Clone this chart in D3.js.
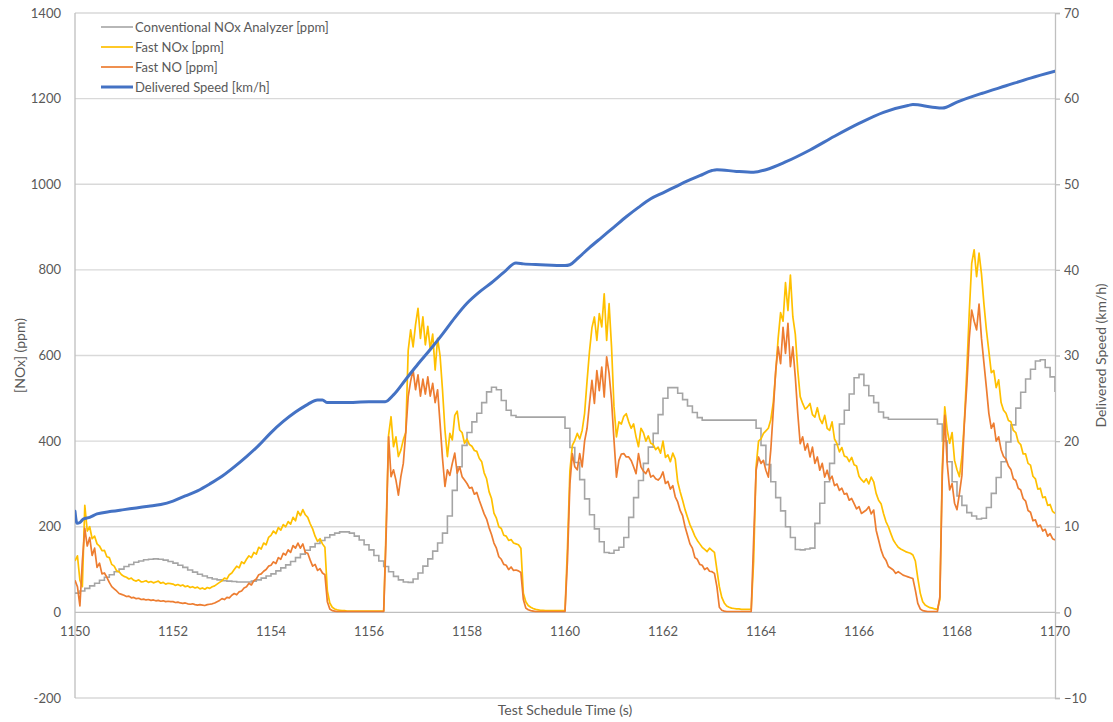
<!DOCTYPE html>
<html>
<head>
<meta charset="utf-8">
<script src="https://cdn.jsdelivr.net/npm/d3@7"></script>
<style>
  body { margin: 0; background: #fff; }
  text { font-family: Lato, "Open Sans", sans-serif; fill: #595959; }
</style>
</head>
<body>
<svg id="chart" width="1113" height="722"></svg>
<script>
// sampling of the recorded series (seconds)
var timeStart = 1150;
var grayStep = 0.1;
var fastStep = 0.05;

var xTicks = [1150, 1152, 1154, 1156, 1158, 1160, 1162, 1164, 1166, 1168, 1170];
var noxTicks = [-200, 0, 200, 400, 600, 800, 1000, 1200, 1400];
var speedTicks = [-10, 0, 10, 20, 30, 40, 50, 60, 70];

// Conventional NOx Analyzer [ppm], every 0.1 s
var conventionalNox = [
  45,50,56,62,68,75,82,88,95,101,
  107,112,117,120,123,124,125,124,122,119,
  115,110,105,99,94,89,85,81,78,76,
  74,73,72,71,71,71,73,76,80,85,
  90,97,104,111,119,128,136,145,153,161,
  168,175,181,185,188,188,185,178,169,158,
  146,133,120,107,95,84,76,71,70,78,
  92,108,125,143,162,185,225,285,340,390,
  420,445,465,490,515,526,520,495,472,460,
  456,456,456,456,456,456,456,456,456,456,
  430,385,350,310,265,228,195,165,140,138,
  145,152,175,222,268,308,348,386,418,462,
  500,525,525,512,497,482,467,455,449,449,
  449,449,449,449,449,449,449,449,449,430,
  390,345,305,268,237,200,175,147,146,148,
  150,208,255,305,348,392,440,472,510,548,
  556,530,506,490,468,455,451,451,451,451,
  451,451,451,451,451,451,440,400,352,305,
  272,250,233,225,218,220,245,278,315,352,
  398,438,477,514,545,568,587,590,572,550,
  515
];

// Fast NOx [ppm], every 0.05 s
var fastNox = [
  120,132,75,60,250,190,200,172,178,160,155,144,145,130,128,112,108,97,95,88,
  84,82,78,80,75,73,76,71,72,74,70,72,69,71,73,68,70,66,68,67,
  66,63,65,62,64,60,62,58,60,57,59,55,57,54,58,56,60,62,66,70,
  74,80,78,88,92,100,108,104,118,114,124,132,128,140,136,152,148,162,158,175,
  180,190,184,198,192,205,200,212,206,222,214,236,226,240,228,222,207,195,178,166,
  172,160,152,50,22,12,8,6,5,4,4,3,3,3,3,3,3,3,3,3,
  3,3,3,3,3,3,3,200,414,457,387,410,364,379,403,420,612,660,620,672,
  710,640,690,625,668,615,650,566,640,600,520,426,364,418,403,460,470,426,420,395,
  405,392,388,378,376,360,352,326,312,282,266,232,220,200,196,180,178,168,170,162,
  160,158,150,45,25,16,12,9,7,6,5,5,4,4,4,4,4,4,4,4,
  4,150,330,390,402,418,405,425,465,540,610,665,690,635,698,667,744,635,721,620,
  480,410,445,440,458,464,445,430,440,410,387,430,420,400,412,395,392,380,386,372,
  400,362,368,352,372,358,305,282,262,240,222,205,192,178,168,160,152,147,142,150,
  145,140,100,60,35,22,15,12,10,9,8,8,7,7,7,7,7,120,340,400,
  405,418,424,430,450,490,560,640,700,680,770,705,788,690,650,566,504,488,475,480,
  488,462,456,478,452,441,460,430,425,445,405,394,375,385,365,363,352,362,345,342,
  318,310,304,312,300,316,305,278,262,254,231,212,200,184,169,160,152,148,145,142,
  140,138,134,120,80,45,25,17,14,11,10,8,7,30,340,480,426,395,420,355,
  333,317,363,445,566,700,815,847,784,839,790,720,660,610,560,565,525,543,490,472,
  465,448,445,425,420,398,392,370,370,348,344,318,312,288,290,268,270,250,252,236,
  231
];

// Fast NO [ppm], every 0.05 s
var fastNo = [
  75,60,15,120,196,155,175,133,150,105,115,90,92,82,70,60,55,50,44,42,
  40,37,38,34,35,32,33,30,31,29,30,28,29,27,28,26,27,25,26,25,
  25,23,24,22,21,22,20,19,20,18,17,18,17,16,18,19,20,22,25,28,
  32,30,35,34,40,44,41,48,50,57,60,68,64,74,78,88,90,96,100,108,
  110,118,114,128,124,138,134,146,140,156,150,162,150,160,140,138,122,108,112,98,
  102,92,88,25,8,4,3,2,2,2,2,2,2,2,2,2,2,2,2,2,
  2,2,2,2,2,2,2,180,410,317,333,309,274,317,348,420,504,540,566,520,
  555,505,545,510,550,505,535,490,520,442,360,294,333,320,348,372,325,340,317,309,
  301,290,292,276,280,262,246,230,218,198,182,162,150,130,124,112,110,100,106,98,
  99,97,93,30,10,6,4,3,2,2,2,2,2,2,2,2,2,2,2,2,
  2,120,300,371,340,333,371,340,400,430,488,542,488,565,518,573,503,597,558,495,
  402,316,355,370,371,363,363,355,340,324,371,340,330,324,336,316,320,312,309,315,
  328,301,306,288,296,270,258,238,226,200,180,160,150,128,124,112,110,100,104,96,
  95,91,60,12,5,3,2,2,2,2,2,2,2,2,2,2,2,170,332,363,
  348,355,332,316,380,470,565,620,581,666,605,675,574,620,550,465,394,410,379,394,
  363,386,348,363,332,348,316,332,310,318,296,300,285,290,276,278,262,266,254,242,
  247,231,235,239,247,230,239,192,169,146,130,122,107,103,99,91,95,91,87,85,
  83,81,79,52,21,8,4,3,2,2,2,2,2,36,320,460,348,286,301,255,
  240,278,320,441,530,640,706,680,660,720,640,582,525,465,430,442,400,410,380,364,
  358,342,334,312,308,290,286,266,260,238,234,214,216,200,204,190,194,178,184,172,
  169
];

// Delivered Speed [km/h]
var speedTime = [
  1150.00,1150.04,1150.10,1150.17,1150.30,1150.45,1150.75,1151.00,1151.25,1151.50,
  1151.75,1152.00,1152.25,1152.50,1152.75,1153.00,1153.25,1153.50,1153.75,1154.00,
  1154.25,1154.50,1154.75,1154.95,1155.05,1155.15,1155.50,1156.00,1156.33,1156.50,
  1156.75,1157.00,1157.25,1157.50,1157.75,1158.00,1158.25,1158.50,1158.75,1159.00,
  1159.15,1159.50,1160.00,1160.10,1160.25,1160.50,1160.75,1161.00,1161.25,1161.50,
  1161.75,1162.00,1162.25,1162.50,1162.75,1163.00,1163.10,1163.50,1163.85,1164.10,
  1164.50,1165.00,1165.50,1166.00,1166.50,1167.00,1167.10,1167.50,1167.70,1168.00,
  1168.50,1169.00,1169.50,1170.00
];
var speed = [
  11.8,10.4,10.5,10.9,11.1,11.5,11.8,12.0,12.2,12.4,
  12.6,13.0,13.6,14.2,15.0,15.9,17.0,18.2,19.5,21.0,
  22.3,23.4,24.3,24.8,24.8,24.5,24.5,24.6,24.6,25.4,
  27.2,29.0,30.7,32.5,34.4,36.1,37.4,38.5,39.7,40.8,
  40.7,40.6,40.5,40.6,41.3,42.6,43.8,45.0,46.2,47.3,
  48.3,49.0,49.7,50.4,51.0,51.6,51.7,51.5,51.4,51.7,
  52.6,54.0,55.6,57.1,58.4,59.2,59.3,59.0,58.9,59.6,
  60.6,61.5,62.4,63.2
];

var seriesNames = ["Conventional NOx Analyzer [ppm]", "Fast NOx [ppm]", "Fast NO [ppm]", "Delivered Speed [km/h]"];
var seriesColors = ["#a5a5a5", "#ffc000", "#ed7d31", "#4472c4"];
var seriesWidths = [1.6, 1.7, 1.7, 3];

var plotLeft = 75, plotRight = 1055, plotTop = 13, plotBottom = 698;

var svg = d3.select("#chart");
svg.append("rect").attr("width", 1113).attr("height", 722).attr("fill", "#fff");

var x = d3.scaleLinear().domain([1150, 1170]).range([plotLeft, plotRight]);
var yNox = d3.scaleLinear().domain([-200, 1400]).range([plotBottom, plotTop]);
var ySpeed = d3.scaleLinear().domain([-10, 70]).range([plotBottom, plotTop]);

svg.append("defs").append("clipPath").attr("id", "plot")
  .append("rect").attr("x", plotLeft).attr("y", plotTop - 2)
  .attr("width", plotRight - plotLeft).attr("height", plotBottom - plotTop + 4);

// gridlines
svg.append("g").selectAll("line").data(noxTicks).enter().append("line")
  .attr("x1", plotLeft).attr("x2", plotRight)
  .attr("y1", function(d) { return yNox(d); }).attr("y2", function(d) { return yNox(d); })
  .attr("stroke", function(d) { return d == 0 ? "#bfbfbf" : "#d9d9d9"; })
  .attr("stroke-width", 1.3);

// left vertical axis line
svg.append("line").attr("x1", plotLeft).attr("x2", plotLeft).attr("y1", plotTop).attr("y2", plotBottom)
  .attr("stroke", "#bfbfbf").attr("stroke-width", 1.3);

// left ticks
svg.append("g").selectAll("text").data(noxTicks).enter().append("text")
  .attr("x", 61).attr("y", function(d) { return yNox(d); })
  .attr("dy", "0.35em").attr("text-anchor", "end").style("font-size", "13px")
  .text(function(d) { return d; });

// right axis
var rightAxis = svg.append("g").attr("transform", "translate(" + plotRight + ",0)")
  .call(d3.axisRight(ySpeed).tickValues(speedTicks).tickSize(5).tickPadding(4));
rightAxis.select(".domain").attr("stroke", "#bfbfbf").attr("stroke-width", 1.3);
rightAxis.selectAll(".tick line").attr("stroke", "#bfbfbf").attr("stroke-width", 1.3);
rightAxis.selectAll(".tick text").style("font-size", "13px").attr("fill", "#595959")
  .style("font-family", "Lato, 'Open Sans', sans-serif");

// x tick labels sit under the zero line
svg.append("g").selectAll("text").data(xTicks).enter().append("text")
  .attr("x", function(d) { return x(d); }).attr("y", yNox(0) + 19)
  .attr("dy", "0.35em").attr("text-anchor", "middle").style("font-size", "13px")
  .text(function(d) { return d; });

// axis titles
svg.append("text").attr("x", x(1160)).attr("y", 710).attr("dy", "0.35em")
  .attr("text-anchor", "middle").style("font-size", "14px").text("Test Schedule Time (s)");
svg.append("text").attr("transform", "translate(20," + ((plotTop + plotBottom) / 2) + ") rotate(-90)")
  .attr("dy", "0.35em").attr("text-anchor", "middle").style("font-size", "14px").text("[NOx] (ppm)");
svg.append("text").attr("transform", "translate(1101," + ((plotTop + plotBottom) / 2) + ") rotate(-90)")
  .attr("dy", "0.35em").attr("text-anchor", "middle").style("font-size", "14px").text("Delivered Speed (km/h)");

// series
var plot = svg.append("g").attr("clip-path", "url(#plot)");

var grayLine = d3.line()
  .x(function(d, i) { return x(timeStart + i * grayStep); })
  .y(function(d) { return yNox(d); })
  .curve(d3.curveStepAfter);
var fastLine = d3.line()
  .x(function(d, i) { return x(timeStart + i * fastStep); })
  .y(function(d) { return yNox(d); });
var speedLine = d3.line()
  .x(function(d, i) { return x(speedTime[i]); })
  .y(function(d) { return ySpeed(d); })
  .curve(d3.curveMonotoneX);

plot.append("path").attr("d", grayLine(conventionalNox))
  .attr("fill", "none").attr("stroke", seriesColors[0]).attr("stroke-width", seriesWidths[0]);
plot.append("path").attr("d", fastLine(fastNox))
  .attr("fill", "none").attr("stroke", seriesColors[1]).attr("stroke-width", seriesWidths[1]).attr("stroke-linejoin", "round");
plot.append("path").attr("d", fastLine(fastNo))
  .attr("fill", "none").attr("stroke", seriesColors[2]).attr("stroke-width", seriesWidths[2]).attr("stroke-linejoin", "round");
plot.append("path").attr("d", speedLine(speed))
  .attr("fill", "none").attr("stroke", seriesColors[3]).attr("stroke-width", seriesWidths[3]).attr("stroke-linecap", "round");

// legend
var legend = svg.append("g").selectAll("g").data(seriesNames).enter().append("g")
  .attr("transform", function(d, i) { return "translate(101," + (27 + i * 20) + ")"; });
legend.append("line").attr("x1", 0).attr("x2", 32).attr("y1", 0).attr("y2", 0)
  .attr("stroke", function(d, i) { return seriesColors[i]; })
  .attr("stroke-width", function(d, i) { return seriesWidths[i]; });
legend.append("text").attr("x", 34).attr("dy", "0.35em").style("font-size", "13px")
  .text(function(d) { return d; });
</script>
</body>
</html>
